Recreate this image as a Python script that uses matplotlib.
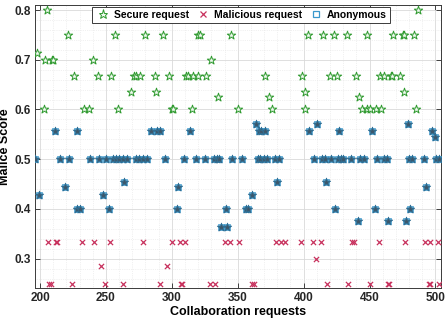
import matplotlib
matplotlib.use("Agg")
import matplotlib.pyplot as plt
from matplotlib.lines import Line2D
from matplotlib.ticker import MultipleLocator

plt.rcParams['font.family'] = ['Liberation Sans', 'DejaVu Sans']

# ---- data: request index per score level ----
secure_levels = [0.8, 0.75, 0.714, 0.7, 0.667, 0.636, 0.625, 0.6]
secure_req = [
    [205, 487],
    [221, 257, 280, 293, 320, 321, 345, 403, 415, 423, 433, 448, 468, 475, 476, 484],
    [198],
    [204, 209, 210, 240, 330],
    [226, 244, 254, 271, 273, 276, 287, 298, 311, 312, 316, 320, 326, 371, 399, 420,
     425, 440, 458, 461, 466, 467, 473],
    [269, 288, 401, 476],
    [335, 374, 442],
    [203, 233, 237, 259, 300, 301, 315, 350, 376, 401, 444, 448, 450, 455, 459, 485],
]

malicious_levels = [0.333, 0.3, 0.2857, 0.25]
malicious_req = [
    [206, 212, 213, 232, 241, 253, 278, 300, 306, 310, 340, 344, 351, 379, 383,
     386, 398, 407, 413, 437, 438, 457, 477, 492, 496, 502],
    [409],
    [246, 296],
    [207, 208, 224, 249, 263, 291, 307, 308, 329, 333, 361, 362, 418, 434, 450,
     464, 465, 495, 496, 503],
]

anon_levels = [0.571, 0.556, 0.5455, 0.5, 0.4545, 0.444, 0.429, 0.4, 0.375, 0.364]
anon_req = [
    [364, 410, 479],
    [211, 228, 284, 289, 291, 314, 366, 368, 371, 404, 427, 452, 497],
    [500],
    [196.5, 215, 222, 238, 245, 250, 255, 258, 260, 263, 266, 273, 275, 278, 281, 295,
     309, 318, 325, 332, 334, 336, 346, 353, 365, 367, 370, 372, 378, 381, 408, 414,
     416, 421, 426, 428, 430, 436, 443, 446, 456, 461, 463, 480, 482, 491, 500.5, 503],
    [264, 380, 417],
    [219, 305, 493],
    [199, 248, 361],
    [228, 230, 252, 304, 341, 356, 358, 424, 454, 481],
    [441, 464, 478],
    [337, 342],
]

x_ticks = [200, 250, 300, 350, 400, 450, 500]
y_ticks = [0.3, 0.4, 0.5, 0.6, 0.7, 0.8]
labels = ['Secure request', 'Malicious request', 'Anonymous']


def flatten(levels, groups):
    xs, ys = [], []
    for lvl, grp in zip(levels, groups):
        xs.extend(grp)
        ys.extend([lvl] * len(grp))
    return xs, ys


secure_x, secure_y = flatten(secure_levels, secure_req)
malicious_x, malicious_y = flatten(malicious_levels, malicious_req)
anon_x, anon_y = flatten(anon_levels, anon_req)

# ---- style ----
green = '#2f9a2f'
red = '#c8325e'
blue = '#3a98cc'
anon_face = '#3e5668'

fig = plt.figure(figsize=(4.46, 3.21), dpi=100)
ax = fig.add_axes([35 / 446, 1 - 288 / 321, 406 / 446, 283.3 / 321])

ax.scatter(secure_x, secure_y, marker='*', s=40, facecolors='#eef8ee',
           edgecolors=green, linewidths=0.7, zorder=3)
ax.scatter(malicious_x, malicious_y, marker='x', s=14, c=red,
           linewidths=0.9, zorder=3)
ax.scatter(anon_x, anon_y, marker='s', s=20, facecolors=blue,
           edgecolors=blue, linewidths=0.6, zorder=3, alpha=0.75)
ax.scatter(anon_x, anon_y, marker='*', s=40, facecolors=anon_face,
           edgecolors='#2f6f95', linewidths=0.6, zorder=4)

ax.set_xlim(196.2, 504.2)
ax.set_ylim(0.2411, 0.8107)
ax.set_xticks(x_ticks)
ax.set_yticks(y_ticks)
ax.set_xticklabels([str(v) for v in x_ticks])
ax.set_yticklabels([f'{v:.1f}' for v in y_ticks])
ax.xaxis.set_minor_locator(MultipleLocator(10))
ax.yaxis.set_minor_locator(MultipleLocator(0.02))

ax.grid(True, which='major', color='#d9d9d9', linewidth=0.6, zorder=0)
ax.grid(True, which='minor', color='#e4e4e4', linewidth=0.5, linestyle=':', zorder=0)
ax.set_axisbelow(True)

ax.tick_params(which='major', direction='in', length=3.5, width=0.6, top=True, right=True,
               labelsize=8.5, pad=3, colors='#262626')
ax.tick_params(which='minor', length=0, top=True, right=True)
for lab in ax.get_xticklabels() + ax.get_yticklabels():
    lab.set_fontweight('bold')
for sp in ax.spines.values():
    sp.set_color('#3a3a3a')
    sp.set_linewidth(0.7)

ax.set_xlabel('Collaboration requests', fontsize=9, fontweight='bold', labelpad=1.5)
ax.set_ylabel('Malice Score', fontsize=9, fontweight='bold')
ax.yaxis.set_label_coords(-0.06, 0.5)

handles = [
    Line2D([], [], linestyle='none', marker='*', markersize=6.5, markerfacecolor='#eef8ee',
           markeredgecolor=green, markeredgewidth=0.7),
    Line2D([], [], linestyle='none', marker='x', markersize=4, color=red, markeredgewidth=0.9),
    Line2D([], [], linestyle='none', marker='s', markersize=4, markerfacecolor='none',
           markeredgecolor=blue, markeredgewidth=0.9),
]
leg = ax.legend(handles, labels, loc='upper center', bbox_to_anchor=(0.507, 0.993),
                ncol=3, prop={'weight': 'bold', 'size': 7.5},
                frameon=True, fancybox=False, borderaxespad=0, handletextpad=0.26,
                columnspacing=0.5, borderpad=0.3, handlelength=1.6)
leg.get_frame().set_edgecolor('#3a3a3a')
leg.get_frame().set_linewidth(0.7)
leg.get_frame().set_alpha(1)

fig.savefig('out.png', dpi=100)
